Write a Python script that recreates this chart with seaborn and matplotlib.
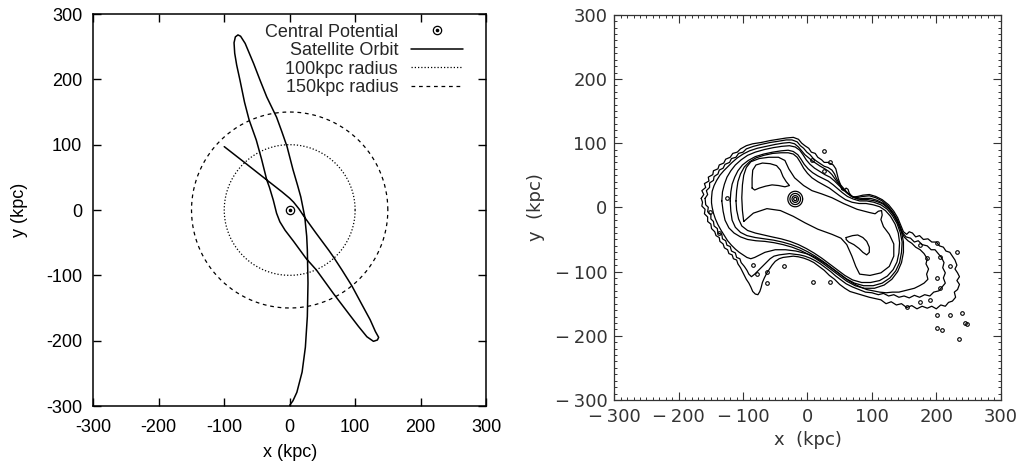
import numpy as np
import pandas as pd
import matplotlib
matplotlib.use("Agg")
import matplotlib.pyplot as plt
import seaborn as sns
from matplotlib.lines import Line2D
from matplotlib.legend_handler import HandlerTuple
from matplotlib.ticker import MultipleLocator, FuncFormatter

# ---------------- data: left panel ----------------
orbit_x = [-100, -68, -35, -12, 0, 6, 14, 22, 40, 60, 67, 80, 95, 110, 123, 131, 136, 134, 128, 118,
           105, 92, 67, 41, 25, 6, -7, -15, -20, -25, -31, -35, -43, -51, -62, -69, -76, -81, -84, -85,
           -83, -79, -75, -68, -55, -45, -35, -20, -12, -4, 5, 12, 17, 20, 23, 26, 27, 28, 27, 24,
           19, 11, 5, 0]
orbit_y = [97, 72, 46, 28, 18, 12, 2, -10, -35, -62, -72, -92, -116, -144, -168, -186, -195, -199, -201, -194,
           -178, -161, -128, -92, -74, -48, -31, -18, -5, 15, 35, 46, 78, 107, 138, 165, 199, 222, 240, 256,
           265, 268, 266, 255, 224, 198, 173, 142, 120, 97, 62, 38, 20, 5, -10, -40, -61, -112, -163, -210,
           -248, -279, -292, -299]
radius_100 = 100
radius_150 = 150
centre = (0, 0)
legend_labels = ["Central Potential", "Satellite Orbit", "100kpc radius", "150kpc radius"]

# ---------------- data: right panel (contours, kpc) ----------------
contour_L1 = [(-165,14),(-161,20),(-164,26),(-158,31),(-160,37),(-153,41),(-154,47),(-147,51),(-146,57),(-139,60),
 (-137,66),(-130,69),(-127,75),(-120,78),(-116,84),(-109,86),(-104,91),(-95,96),(-85,99),(-72,101),(-58,104),
 (-45,106),(-33,108),(-22,109),(-14,106),
 (-9,100),(-4,96),(2,92),(6,86),(12,84),(16,78),(22,74),(26,70),(32,70),(36,68),(40,66),(44,60),(46,52),(48,44),
 (51,36),(53,28),(56,26),(60,30),(63,28),(65,22),(70,16),(78,17),(86,19),(96,20),(106,17),(116,12),(126,4),
 (134,-6),(140,-16),(145,-28),(149,-38),(154,-42),(158,-38),(163,-40),(168,-46),(174,-44),(180,-50),(187,-49),
 (193,-54),(200,-54),(205,-60),(211,-62),(215,-68),(221,-70),(225,-76),(229,-82),(232,-90),(229,-96),(233,-102),
 (236,-108),(232,-114),(236,-120),(233,-128),(228,-132),(230,-140),(225,-146),(219,-148),(214,-154),(207,-152),
 (200,-158),(193,-154),(186,-157),(178,-154),(170,-158),(162,-153),(154,-156),(146,-150),(138,-152),(130,-147),
 (122,-150),(114,-144),(105,-142),(96,-140),(86,-137),(76,-134),(66,-131),(58,-126),(50,-120),(42,-112),
 (34,-106),(26,-98),(18,-92),(10,-86),(2,-82),(-6,-79),(-14,-77),(-22,-76),(-30,-77),(-38,-78),(-44,-80),
 (-50,-84),(-55,-90),(-59,-96),(-63,-102),(-67,-110),(-70,-117),(-72,-125),(-74,-131),(-77,-136),(-81,-135),
 (-85,-131),(-88,-124),(-91,-118),(-95,-112),(-98,-106),(-101,-100),(-104,-94),(-108,-88),(-110,-82),
 (-115,-80),(-117,-74),(-122,-72),(-124,-66),(-129,-63),(-131,-57),(-136,-53),(-137,-47),(-142,-44),
 (-144,-38),(-149,-33),(-150,-26),(-155,-22),(-155,-15),(-160,-10),(-159,-3),(-164,2),(-163,8)]
contour_L2 = [(-159,14),(-155,20),(-157,26),(-152,31),(-152,38),(-146,42),(-145,48),(-139,52),(-137,58),(-131,61),
 (-128,67),(-121,70),(-118,76),(-111,78),(-107,84),(-100,86),(-95,91),(-84,95),(-72,98),(-58,101),(-45,103),
 (-33,105),(-24,105),(-16,102),(-11,96),(-6,92),
 (-1,86),(4,82),(9,76),(14,72),(20,68),(26,64),(32,62),(38,58),(42,52),(45,45),(49,38),(54,32),(60,25),
 (67,18),(76,15),(86,17),(96,18),(106,15),(116,10),(125,2),(133,-8),(139,-18),(144,-30),(148,-40),(153,-46),
 (160,-48),(166,-54),(172,-52),(178,-58),(186,-60),(192,-66),(198,-66),(203,-72),(208,-78),(212,-86),
 (210,-94),(214,-102),(211,-110),(214,-118),(209,-124),(204,-130),(196,-132),(190,-138),(182,-136),
 (174,-140),(166,-137),(158,-141),(150,-138),(142,-140),(134,-136),(126,-138),(118,-134),(110,-136),
 (100,-133),(90,-132),(80,-128),(70,-124),(60,-119),(52,-113),(44,-107),(36,-100),(28,-94),(20,-88),
 (12,-83),(4,-79),(-4,-76),(-12,-74),(-20,-73),(-28,-72),(-36,-73),(-44,-74),(-52,-76),(-58,-80),(-64,-86),
 (-70,-92),(-76,-98),(-82,-104),(-87,-108),(-91,-104),(-94,-98),(-98,-92),(-103,-86),(-105,-80),(-110,-78),
 (-112,-71),(-118,-68),(-120,-61),(-125,-59),(-127,-52),(-132,-49),(-133,-42),(-139,-40),(-140,-33),
 (-145,-29),(-146,-22),(-150,-18),(-150,-11),(-155,-7),(-154,0),(-158,4)]
contour_L3 = [(-149,14),(-148,25),(-145,34),(-141,42),(-136,50),(-130,57),(-124,63),(-117,70),(-109,77),(-100,83),
 (-90,88),(-78,92),(-64,95),(-50,98),(-38,100),(-28,101),(-20,99),(-14,94),(-9,88),(-4,82),(2,77),(8,72),
 (14,68),(20,64),(27,60),(33,56),(38,51),(43,44),(48,37),(54,30),(61,23),(69,17),(78,13),(88,14),(98,14),
 (108,11),(118,6),(127,-2),(134,-12),(140,-24),(145,-36),(150,-46),(156,-52),(162,-56),(168,-62),(175,-66),
 (181,-72),(186,-80),(184,-88),(188,-96),(185,-104),(187,-112),(181,-118),(174,-122),(166,-126),(158,-128),
 (150,-130),(142,-132),(132,-132),(122,-133),(112,-132),(102,-130),(92,-128),(82,-124),(72,-119),(62,-113),
 (54,-107),(46,-101),(38,-95),(30,-89),(22,-84),(14,-79),(6,-75),(-2,-72),(-10,-70),(-18,-68),(-26,-67),
 (-34,-66),(-42,-66),(-50,-66),(-58,-68),(-66,-70),(-74,-74),(-82,-78),(-88,-80),(-94,-78),(-100,-74),
 (-106,-70),(-112,-65),(-118,-59),(-124,-52),(-129,-44),(-134,-36),(-139,-27),(-143,-18),(-146,-9),
 (-148,0),(-149,7)]
contour_L4 = [(-133,10),(-132,24),(-129,36),(-125,47),(-119,57),(-112,66),(-103,74),(-93,81),(-81,86),(-67,90),
 (-53,93),(-40,95),(-28,96),(-19,94),(-12,89),(-7,82),(-2,74),(4,67),(11,61),(19,56),(27,51),(35,47),(42,41),
 (49,34),(56,27),(64,20),(73,15),(83,12),(94,12),(105,10),(116,6),(126,-2),(134,-12),(141,-24),(146,-38),
 (149,-54),(149,-70),(146,-86),(140,-100),(131,-112),(119,-121),(104,-126),(88,-126),(74,-122),(61,-115),
 (49,-106),(37,-97),(25,-88),(13,-80),(1,-73),(-11,-67),(-24,-62),(-38,-58),(-52,-55),(-66,-53),(-80,-52),
 (-93,-50),(-104,-46),(-114,-40),(-122,-32),(-128,-20),(-131,-6)]
contour_L5 = [(-120,10),(-119,24),(-117,36),(-113,47),(-108,57),(-101,66),(-92,73),(-81,79),(-68,83),(-54,86),
 (-41,88),(-30,89),(-22,87),(-15,82),(-10,75),(-5,67),(1,60),(8,54),(16,49),(24,45),(32,41),(40,35),(47,29),
 (54,23),(62,17),(71,13),(81,10),(92,10),(103,8),(114,4),(124,-3),(132,-13),(139,-25),(144,-39),(147,-54),
 (146,-70),(143,-86),(137,-99),(128,-110),(116,-118),(102,-122),(87,-122),(73,-118),(60,-111),(48,-102),
 (36,-93),(24,-84),(12,-76),(0,-69),(-12,-63),(-25,-58),(-39,-54),(-53,-51),(-67,-49),(-81,-47),(-94,-44),
 (-104,-39),(-112,-31),(-117,-20),(-119,-6)]
contour_L6 = [(-111,10),(-110,26),(-108,40),(-104,52),(-98,63),(-90,71),(-80,77),(-68,81),(-54,84),(-41,85),
 (-30,85),(-22,83),(-16,78),(-11,70),(-6,61),(0,53),(7,46),(16,40),(25,35),(34,30),(42,24),(50,18),(59,12),
 (69,8),(80,6),(91,6),(102,4),(112,1),(121,-5),(129,-14),(136,-26),(141,-40),(143,-55),(142,-71),(139,-85),
 (133,-97),(124,-107),(112,-114),(98,-117),(84,-117),(70,-113),(58,-106),(46,-97),(34,-88),(22,-79),
 (10,-71),(-2,-64),(-14,-58),(-27,-53),(-41,-49),(-55,-46),(-68,-43),(-81,-40),(-93,-36),(-102,-29),
 (-107,-18),(-110,-4)]
contour_L7 = [(-99,-22),(-101,-5),(-102,15),(-101,35),(-99,50),(-95,62),(-88,71),(-75,76),(-60,78),(-45,78),
 (-35,73),(-29,60),(-20,46),(-6,34),(7,26),(22,21),(38,15),(56,6),(77,-3),(96,-8),(105,-10),(110,-6),
 (115,-5),(116,-12),(114,-19),(118,-30),(127,-42),(134,-57),(134,-76),(127,-92),(114,-102),(97,-106),
 (81,-104),(75,-92),(69,-76),(61,-58),(52,-48),(38,-42),(16,-34),(-4,-24),(-22,-14),(-42,-5),(-63,-2),
 (-84,-9)]
contour_U = [(-86,30),(-86,45),(-85,58),(-80,66),(-70,69),(-58,68),(-48,65),(-42,58),(-38,48),(-33,40),
 (-28,34),(-35,32),(-45,34),(-55,35),(-65,33),(-75,30),(-82,27)]
contour_R = [(60,-47),(70,-44),(78,-43),(86,-47),(92,-53),(96,-62),(96,-70),(92,-74),(86,-70),(80,-64),
 (72,-58),(64,-54),(60,-50)]
bullseye_centre = (-19, 13)
bullseye_radii = [11.5, 8.2, 5.0, 2.4]
island_x = [175, 201, 186, 206, 232, 222, 201, 206, 191, 175, 155, 240, 201, 222, 248, 201, 209, 236, 245,
            7, 25, 25, 35, -125, -152, -138, -84, -63, -37, 9, 35, -79, -63]
island_y = [-59, -56, -79, -77, -69, -92, -110, -126, -144, -147, -155, -165, -168, -168, -181, -188, -191,
            -205, -180, 74, 87, 56, 71, 14, -7, -40, -90, -100, -92, -116, -116, -103, -118]

# ---------------- style ----------------
sns.set_theme(style="ticks")
plt.rcParams["axes.unicode_minus"] = False
plt.rcParams["font.family"] = ["Liberation Sans", "DejaVu Sans"]

fig = plt.figure(figsize=(10.18, 4.61), dpi=100)
axL = fig.add_axes([0.0917, 0.1193, 0.3857, 0.8503])
axR = fig.add_axes([0.6034, 0.1323, 0.3796, 0.8358])

# ---------------- left panel ----------------
orbit_df = pd.DataFrame({"x": orbit_x, "y": orbit_y})
sns.lineplot(data=orbit_df, x="x", y="y", sort=False, estimator=None, color="black", lw=1.1, ax=axL)
t = np.linspace(0, 2 * np.pi, 600)
sns.lineplot(x=radius_100 * np.cos(t), y=radius_100 * np.sin(t), sort=False, estimator=None,
             color="black", lw=0.9, linestyle=(0, (1, 1.6)), ax=axL)
sns.lineplot(x=radius_150 * np.cos(t), y=radius_150 * np.sin(t), sort=False, estimator=None,
             color="black", lw=0.9, linestyle=(0, (3, 3)), ax=axL)
axL.plot([centre[0]], [centre[1]], marker="o", ms=6, mfc="none", mec="black", mew=0.9, ls="none")
axL.plot([centre[0]], [centre[1]], marker="o", ms=1.6, color="black", ls="none")

axL.set_xlim(-300, 300)
axL.set_ylim(-300, 300)
axL.xaxis.set_major_locator(MultipleLocator(100))
axL.yaxis.set_major_locator(MultipleLocator(100))
axL.tick_params(which="major", direction="in", length=6, width=1.0, top=True, right=True,
                labelsize=13, colors="black", labelfontfamily="Liberation Sans")
axL.tick_params(axis="x", pad=9)
axL.tick_params(axis="y", pad=8)
for s in axL.spines.values():
    s.set_color("black")
    s.set_linewidth(1.1)
axL.set_xlabel("x (kpc)", fontsize=13, color="black", labelpad=6, family="Liberation Sans")
axL.set_ylabel("y (kpc)", fontsize=13, color="black", labelpad=13, family="Liberation Sans")

h_ring = Line2D([], [], marker="o", ms=6, mfc="none", mec="black", mew=0.9, ls="none")
h_dot = Line2D([], [], marker="o", ms=1.6, color="black", ls="none")
handles = [
    (h_ring, h_dot),
    Line2D([], [], color="black", lw=1.1),
    Line2D([], [], color="black", lw=0.9, ls=(0, (1, 1.6))),
    Line2D([], [], color="black", lw=0.9, ls=(0, (3, 3))),
]
axL.legend(handles, legend_labels, loc="upper right", bbox_to_anchor=(0.9415, 0.975),
           frameon=False, markerfirst=False, handlelength=2.9, handletextpad=0.7,
           labelspacing=0.08, borderaxespad=0, borderpad=0,
           handler_map={tuple: HandlerTuple(ndivide=1)},
           prop={"family": "Liberation Sans", "size": 13})

# ---------------- right panel ----------------
rows = []
named = {"L1": contour_L1, "L2": contour_L2, "L3": contour_L3, "L4": contour_L4, "L5": contour_L5,
         "L6": contour_L6, "L7": contour_L7, "U": contour_U, "R": contour_R}
for name, pts in named.items():
    closed = list(pts) + [pts[0]]
    for i, (xx, yy) in enumerate(closed):
        rows.append((name, i, xx, yy))
tt = np.linspace(0, 2 * np.pi, 60)
for k, r in enumerate(bullseye_radii):
    for i, a in enumerate(tt):
        rows.append((f"B{k}", i, bullseye_centre[0] + r * np.cos(a), bullseye_centre[1] + r * 1.05 * np.sin(a)))
cdf = pd.DataFrame(rows, columns=["id", "order", "x", "y"])
sns.lineplot(data=cdf, x="x", y="y", units="id", estimator=None, sort=False, color="black",
             lw=0.9, legend=False, ax=axR)
axR.plot(island_x, island_y, "o", ms=2.6, mfc="none", mec="black", mew=0.8, ls="none")

axR.set_xlim(-300, 300)
axR.set_ylim(-300, 300)
axR.xaxis.set_major_locator(MultipleLocator(100))
axR.yaxis.set_major_locator(MultipleLocator(100))
axR.xaxis.set_minor_locator(MultipleLocator(10))
axR.yaxis.set_minor_locator(MultipleLocator(10))
fmt = FuncFormatter(lambda v, p: ("\u2212\u2009%d" % (-v)) if v < 0 else "%d" % v)
axR.xaxis.set_major_formatter(fmt)
axR.yaxis.set_major_formatter(fmt)
axR.tick_params(which="both", direction="in", top=True, right=True, colors="#333333",
                labelsize=13, labelfontfamily="DejaVu Sans")
axR.tick_params(which="major", length=5.5, width=0.8)
axR.tick_params(which="minor", length=2.5, width=0.7)
axR.tick_params(axis="x", which="major", pad=5.5)
axR.tick_params(axis="y", which="major", pad=5)
for s in axR.spines.values():
    s.set_color("#333333")
    s.set_linewidth(0.9)
axR.set_xlabel("x  (kpc)", fontsize=13, color="#333333", labelpad=4, family="DejaVu Sans")
axR.set_ylabel("y  (kpc)", fontsize=13, color="#333333", labelpad=7, family="DejaVu Sans")

fig.savefig("out.png", dpi=100)
